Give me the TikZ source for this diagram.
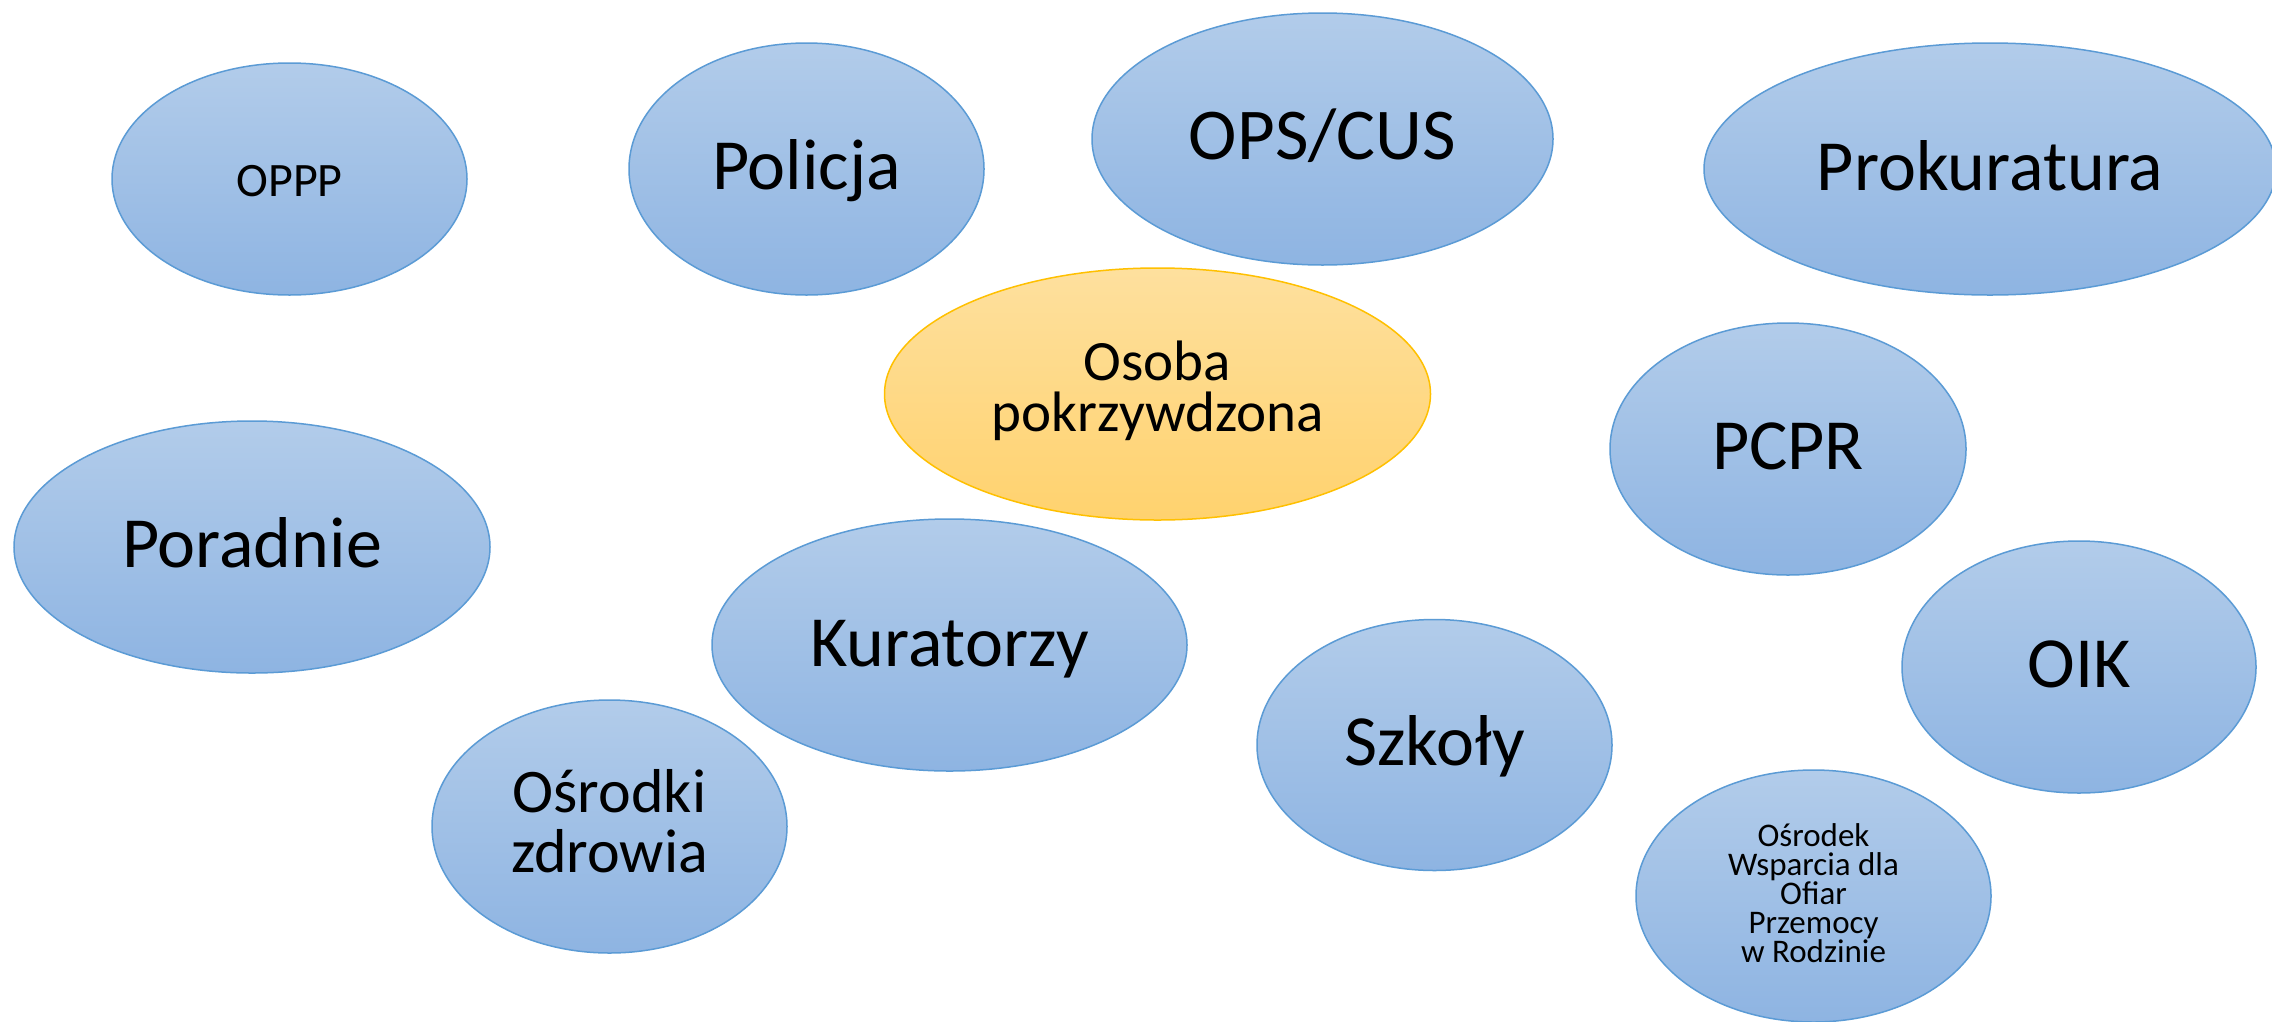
\documentclass[tikz,border=0pt]{standalone}
\usepackage{fontspec}
\setmainfont{Carlito}
\usetikzlibrary{shapes.geometric}
\definecolor{bluetop}{RGB}{178,204,234}
\definecolor{bluebot}{RGB}{142,180,226}
\definecolor{blueline}{RGB}{91,155,213}
\definecolor{orangetop}{RGB}{254,224,158}
\definecolor{orangebot}{RGB}{255,210,110}
\definecolor{orangeline}{RGB}{255,192,0}
\tikzset{
  ell/.style={ellipse, inner sep=0pt, line width=1.5pt},
  blueell/.style={ell, draw=blueline, top color=bluetop, bottom color=bluebot},
  orangeell/.style={ell, draw=orangeline, top color=orangetop, bottom color=orangebot},
  lbl/.style={anchor=base, align=center, text=black, inner sep=0pt},
}
\begin{document}
\begin{tikzpicture}[x=1pt,y=-1pt]
\useasboundingbox (0,0) rectangle (2272,1021);
\clip (0,0) rectangle (2272,1021);
\fill[white] (0,0) rectangle (2272,1021);
% ellipses
\node[blueell, minimum width=355pt, minimum height=232pt] (oppp) at (289.5,179) {};
\node[blueell, minimum width=355pt, minimum height=252pt] (policja) at (806.5,169) {};
\node[blueell, minimum width=461pt, minimum height=252pt] (ops) at (1322.5,139) {};
\node[blueell, minimum width=572pt, minimum height=252pt] (prok) at (1990,169) {};
\node[orangeell, minimum width=546pt, minimum height=252pt] (osoba) at (1157.5,394) {};
\node[blueell, minimum width=356pt, minimum height=252pt] (pcpr) at (1788,449) {};
\node[blueell, minimum width=476pt, minimum height=252pt] (poradnie) at (252,547) {};
\node[blueell, minimum width=475pt, minimum height=252pt] (kuratorzy) at (949.5,645) {};
\node[blueell, minimum width=354pt, minimum height=252pt] (oik) at (2079,667) {};
\node[blueell, minimum width=355pt, minimum height=251pt] (szkoly) at (1434.5,745) {};
\node[blueell, minimum width=355pt, minimum height=253pt] (zdrowie) at (609.5,826.5) {};
\node[blueell, minimum width=355pt, minimum height=252pt] (wsparcie) at (1813.5,896) {};
% labels (base anchor = baseline of the last line)
\node[lbl, font=\fontsize{48}{48}\selectfont] (toppp) at ([yshift=-17pt]oppp.center) {OPPP};
\node[lbl, font=\fontsize{72}{72}\selectfont] (tpolicja) at ([yshift=-20pt]policja.center) {Policja};
\node[lbl, font=\fontsize{73}{73}\selectfont] (tops) at ([yshift=-20pt]ops.center) {OPS/CUS};
\node[lbl, font=\fontsize{72}{72}\selectfont] (tprok) at ([yshift=-21pt]prok.center) {Prokuratura};
\node[lbl, font=\fontsize{57}{51}\selectfont] (tosoba) at ([yshift=-37pt]osoba.center) {Osoba\\pokrzywdzona};
\node[lbl, font=\fontsize{72}{72}\selectfont] (tpcpr) at ([yshift=-20pt]pcpr.center) {PCPR};
\node[lbl, font=\fontsize{72}{72}\selectfont] (tporadnie) at ([yshift=-20pt]poradnie.center) {Poradnie};
\node[lbl, font=\fontsize{72}{72}\selectfont] (tkuratorzy) at ([yshift=-21pt]kuratorzy.center) {Kuratorzy};
\node[lbl, font=\fontsize{72}{72}\selectfont] (toik) at ([yshift=-20pt]oik.center) {OIK};
\node[lbl, font=\fontsize{72}{72}\selectfont] (tszkoly) at ([yshift=-20pt]szkoly.center) {Szkoły};
\node[lbl, font=\fontsize{62}{60}\selectfont] (tzdrowie) at ([yshift=-45.5pt]zdrowie.center) {Ośrodki\\zdrowia};
\node[lbl, font=\fontsize{33}{29}\selectfont] (twsparcie) at ([yshift=-66pt]wsparcie.center) {Ośrodek\\Wsparcia dla\\Ofiar\\Przemocy\\w Rodzinie};
\end{tikzpicture}
\end{document}
